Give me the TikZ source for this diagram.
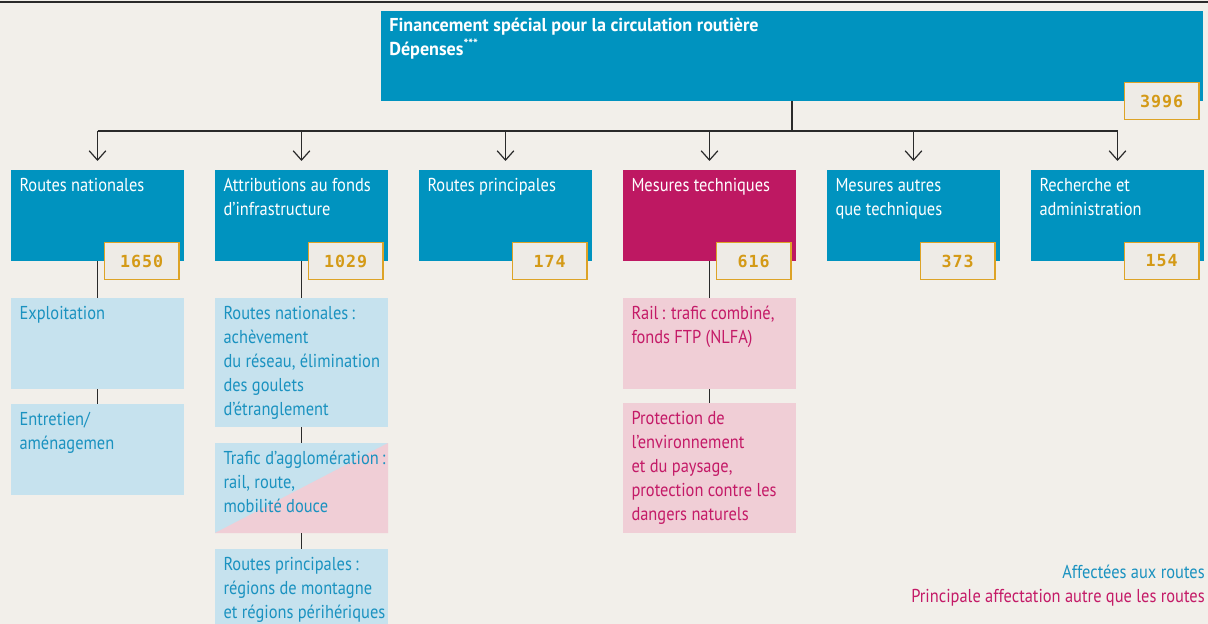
\documentclass[tikz,border=0pt]{standalone}
\usepackage{fontspec}
\setmainfont{PT Sans}[FakeStretch=0.88]
\newfontfamily\titlefont{PT Sans}[FakeStretch=0.97]
\newfontfamily\numfont{DejaVu Sans Mono}[LetterSpace=6]
\usepackage{xcolor}
\usetikzlibrary{positioning,arrows.meta}
\definecolor{paper}{HTML}{F2EFEA}
\definecolor{sfblue}{HTML}{0093BF}
\definecolor{techmag}{HTML}{BE1862}
\definecolor{paleblue}{HTML}{C6E2EE}
\definecolor{palepink}{HTML}{F0CED6}
\definecolor{roadtext}{HTML}{1A92C0}
\definecolor{railtext}{HTML}{C41A67}
\definecolor{goldline}{HTML}{DDA327}
\definecolor{goldtext}{HTML}{D49A17}
\definecolor{numbg}{HTML}{EEEBE6}
\definecolor{inkline}{HTML}{2A2A2A}
\newcommand{\celltext}[3][123pt]{\hspace*{6pt}\parbox[t][\dimexpr#2-6.8pt\relax][t]{#1}{\begin{tabular}[t]{@{}l@{}}#3\end{tabular}}}
\tikzset{
    cell/.style={rectangle, anchor=north west, inner xsep=0pt, inner ysep=3.4pt, outer sep=0pt, minimum width=129.75pt, font=\fontsize{14pt}{18pt}\selectfont},
    head/.style={cell, fill=sfblue, text=white, minimum width=616.5pt, font=\titlefont\fontsize{14pt}{17.25pt}\selectfont\bfseries},
    topic/.style={cell, fill=sfblue, text=white},
    roadbox/.style={cell, fill=paleblue, text=roadtext},
    railbox/.style={cell, fill=palepink, text=railtext},
    amount/.style={rectangle, draw=goldline, line width=1pt, fill=numbg, text=goldtext, inner sep=0pt, outer sep=0pt, minimum width=56pt, minimum height=27.5pt, anchor=east, font=\numfont\bfseries\fontsize{12.5pt}{12.5pt}\selectfont},
    bus/.style={draw=inkline, line width=0.9pt},
    drop/.style={bus, -{Straight Barb[length=7pt, width=12.5pt]}},
    legend/.style={inner sep=0pt, anchor=base east, font=\fontsize{14pt}{18pt}\selectfont}
}
\begin{document}
\begin{tikzpicture}[x=0.75pt, y=-0.75pt]
\clip (0,0) rectangle (1208,624);
\fill[paper] (0,0) rectangle (1208,624);

% ── edge of the page above ──
\coordinate (edgeW) at (0,2);
\coordinate (edgeE) at (1208,2);
\draw[bus] (edgeW) -- (edgeE);

% ── Total ──
\node[head] (total) at (381,11) {\celltext[610pt]{67.5pt}{Financement spécial pour la circulation routière\\Dépenses\textsuperscript{***}}};

% ── Main headings ──
\node[topic] (nat) at (11,170) {\celltext{68.25pt}{Routes nationales}};
\node[topic, right=23.25pt of nat] (infra) {\celltext{68.25pt}{Attributions au fonds\\d’infrastructure}};
\node[topic, right=23.25pt of infra] (main) {\celltext{68.25pt}{Routes principales}};
\node[topic, fill=techmag, right=23.25pt of main] (tech) {\celltext{68.25pt}{Mesures techniques}};
\node[topic, right=23.25pt of tech] (nontech) {\celltext{68.25pt}{Mesures autres\\que techniques}};
\node[topic, right=23.25pt of nontech] (research) {\celltext{68.25pt}{Recherche et\\administration}};

% ── Routes nationales ──
\node[roadbox, below=27.75pt of nat] (exploit) {\celltext{68.25pt}{Exploitation}};
\node[roadbox, below=11.25pt of exploit] (upkeep) {\celltext{68.25pt}{Entretien/\\aménagemen}};

% ── Fonds d'infrastructure ──
\node[roadbox, below=27.75pt of infra] (network) {\celltext{96.75pt}{Routes nationales\,:\\achèvement\\du réseau, élimination\\des goulets\\d’étranglement}};
\node[roadbox, below=12pt of network, path picture={
    \fill[palepink] (path picture bounding box.south west) -- (path picture bounding box.north east) -- (path picture bounding box.south east) -- cycle;
}] (agglo) {\celltext{67.5pt}{Trafic d’agglomération\,:\\rail, route,\\mobilité douce}};
\node[roadbox, below=12pt of agglo] (mountain) {\celltext{68.25pt}{Routes principales\,:\\régions de montagne\\et régions périhériques}};

% ── Mesures techniques ──
\node[railbox, below=27.75pt of tech] (rail) {\celltext{68.25pt}{Rail\,: trafic combiné,\\fonds FTP (NLFA)}};
\node[railbox, below=10.5pt of rail] (environ) {\celltext{97.5pt}{Protection de\\l’environnement\\et du paysage,\\protection contre les\\dangers naturels}};

% ── Connectors ──
\coordinate[below=22.5pt of total] (split);
\draw[bus] (total.south) -- (split);
\draw[bus] (split -| nat) -- (split -| research);
\foreach \n in {nat,infra,main,tech,nontech,research}
    \draw[drop] (split -| \n) -- ([yshift=6.75pt]\n.north);
\draw[bus] (nat.south) -- (exploit.north);
\draw[bus] (exploit.south) -- (upkeep.north);
\draw[bus] (infra.south) -- (network.north);
\draw[bus] (network.south) -- (agglo.north);
\draw[bus] (agglo.south) -- (mountain.north);
\draw[bus] (tech.south) -- (rail.north);
\draw[bus] (rail.south) -- (environ.north);

% ── Amounts ──
\node[amount] (sumTotal) at ([xshift=-3pt]total.south east) {3996};
\node[amount] (sumNat) at ([xshift=-3.75pt]nat.south east) {1650};
\node[amount] (sumInfra) at ([xshift=-3.75pt]infra.south east) {1029};
\node[amount] (sumMain) at ([xshift=-3.75pt]main.south east) {174};
\node[amount] (sumTech) at ([xshift=-3.75pt]tech.south east) {616};
\node[amount] (sumNontech) at ([xshift=-3.75pt]nontech.south east) {373};
\node[amount] (sumResearch) at ([xshift=-3.75pt]research.south east) {154};

% ── Legend ──
\node[legend, text=roadtext] (legRoad) at (1205,578) {Affectées aux routes};
\node[legend, text=railtext] (legRail) at (1205,602) {Principale affectation autre que les routes};

\end{tikzpicture}
\end{document}
